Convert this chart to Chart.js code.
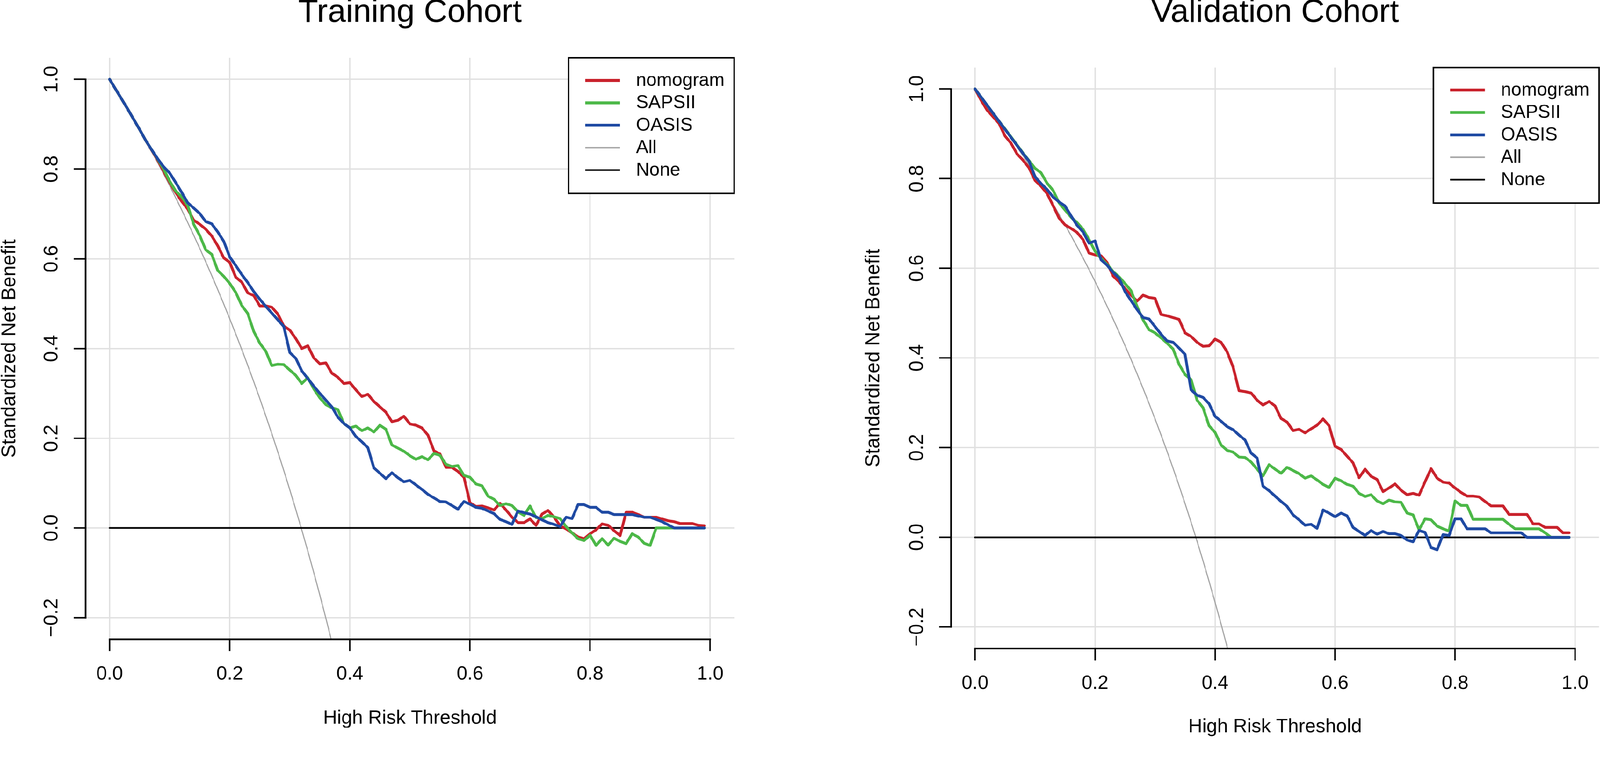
<!DOCTYPE html>
<html>
<head>
<meta charset="utf-8">
<script src="https://cdn.jsdelivr.net/npm/chart.js@4.4.1/dist/chart.umd.min.js"></script>
<style>
html,body{margin:0;padding:0;background:#ffffff;width:100%;height:100%;overflow:hidden;}
#stage{position:absolute;left:0;top:0;width:4317px;height:1992px;transform-origin:0 0;background:#ffffff;}
#stage canvas{position:absolute;top:0;}
#trainCanvas{left:0;}
#validCanvas{left:2330px;}
</style>
</head>
<body>
<div id="stage">
<canvas id="trainCanvas" width="2200" height="1992" style="width:2200px;height:1992px"></canvas>
<canvas id="validCanvas" width="1987" height="1992" style="width:1987px;height:1992px"></canvas>
</div>
<script>
// ---------------- DATA ----------------
const thresholds = [0.00,0.01,0.02,0.03,0.04,0.05,0.06,0.07,0.08,0.09,
 0.10,0.11,0.12,0.13,0.14,0.15,0.16,0.17,0.18,0.19,
 0.20,0.21,0.22,0.23,0.24,0.25,0.26,0.27,0.28,0.29,
 0.30,0.31,0.32,0.33,0.34,0.35,0.36,0.37,0.38,0.39,
 0.40,0.41,0.42,0.43,0.44,0.45,0.46,0.47,0.48,0.49,
 0.50,0.51,0.52,0.53,0.54,0.55,0.56,0.57,0.58,0.59,
 0.60,0.61,0.62,0.63,0.64,0.65,0.66,0.67,0.68,0.69,
 0.70,0.71,0.72,0.73,0.74,0.75,0.76,0.77,0.78,0.79,
 0.80,0.81,0.82,0.83,0.84,0.85,0.86,0.87,0.88,0.89,
 0.90,0.91,0.92,0.93,0.94,0.95,0.96,0.97,0.98,0.99];

const seriesNames = ['nomogram','SAPSII','OASIS','All','None'];
const panelTitles = ['Training Cohort','Validation Cohort'];
const xAxisTitle = 'High Risk Threshold';
const yAxisTitle = 'Standardized Net Benefit';
const xTicks = [0.0,0.2,0.4,0.6,0.8,1.0];
const yTicks = [-0.2,0.0,0.2,0.4,0.6,0.8,1.0];

// Training cohort
const trainNomogram = [1.000,0.978,0.956,0.934,0.911,0.888,0.864,0.842,0.820,0.795,
 0.770,0.748,0.728,0.711,0.686,0.677,0.666,0.651,0.629,0.602,
 0.592,0.559,0.548,0.524,0.518,0.495,0.495,0.492,0.477,0.450,
 0.441,0.422,0.400,0.406,0.379,0.366,0.368,0.345,0.336,0.322,
 0.324,0.308,0.293,0.298,0.282,0.270,0.258,0.237,0.240,0.249,
 0.232,0.229,0.223,0.207,0.172,0.165,0.135,0.135,0.126,0.113,
 0.056,0.048,0.049,0.045,0.040,0.055,0.040,0.024,0.012,0.012,
 0.020,0.006,0.031,0.039,0.024,0.005,-0.002,-0.011,-0.020,-0.024,
 -0.013,-0.004,0.009,0.006,-0.006,-0.017,0.035,0.035,0.030,0.024,
 0.024,0.024,0.020,0.016,0.014,0.010,0.010,0.010,0.006,0.005];
const trainSAPSII = [1.000,0.978,0.956,0.934,0.911,0.888,0.864,0.843,0.822,0.800,
 0.773,0.751,0.738,0.719,0.677,0.652,0.620,0.610,0.574,0.561,
 0.545,0.525,0.496,0.478,0.438,0.412,0.394,0.362,0.365,0.364,
 0.352,0.340,0.322,0.335,0.310,0.290,0.275,0.268,0.264,0.233,
 0.223,0.227,0.217,0.223,0.214,0.229,0.220,0.185,0.178,0.171,
 0.161,0.153,0.159,0.152,0.166,0.162,0.142,0.137,0.139,0.117,
 0.113,0.098,0.094,0.071,0.064,0.050,0.054,0.050,0.036,0.028,
 0.049,0.023,0.021,0.028,0.025,0.021,0.003,-0.011,-0.024,-0.028,
 -0.016,-0.039,-0.024,-0.038,-0.023,-0.030,-0.035,-0.013,-0.020,-0.034,
 -0.039,0.000,0.000,0.000,0.000,0.000,0.000,0.000,0.000,0.000];
const trainOASIS = [1.000,0.978,0.956,0.934,0.911,0.888,0.864,0.843,0.823,0.805,
 0.791,0.770,0.748,0.725,0.713,0.701,0.683,0.678,0.660,0.639,
 0.604,0.585,0.565,0.547,0.527,0.510,0.494,0.479,0.464,0.449,
 0.391,0.378,0.350,0.333,0.316,0.300,0.285,0.270,0.247,0.233,
 0.223,0.204,0.192,0.179,0.134,0.122,0.110,0.123,0.112,0.103,
 0.106,0.096,0.086,0.075,0.067,0.059,0.058,0.050,0.042,0.059,
 0.053,0.046,0.044,0.038,0.032,0.019,0.014,0.008,0.038,0.034,
 0.031,0.025,0.018,0.012,0.008,0.003,0.024,0.021,0.052,0.052,
 0.046,0.046,0.035,0.035,0.030,0.030,0.030,0.030,0.027,0.024,
 0.024,0.019,0.014,0.007,0.000,0.000,0.000,0.000,0.000,0.000];
const trainAll = [1.0000,0.9784,0.9564,0.9340,0.9110,0.8876,0.8637,0.8393,0.8144,0.7889,
 0.7628,0.7361,0.7089,0.6810,0.6525,0.6233,0.5934,0.5628,0.5314,0.4992,
 0.4663,0.4325,0.3979,0.3623,0.3259,0.2884,0.2499,0.2104,0.1698,0.1280,
 0.0851,0.0409,-0.0046,-0.0515,-0.0997,-0.1495,-0.2008,-0.2538,-0.3084];

// Validation cohort
const validNomogram = [1.000,0.975,0.953,0.938,0.923,0.895,0.879,0.855,0.841,0.824,
 0.796,0.783,0.767,0.740,0.712,0.697,0.689,0.680,0.664,0.634,
 0.630,0.628,0.613,0.583,0.570,0.555,0.540,0.527,0.540,0.535,
 0.533,0.497,0.494,0.490,0.486,0.456,0.448,0.435,0.426,0.427,
 0.442,0.435,0.414,0.380,0.327,0.325,0.322,0.306,0.295,0.303,
 0.293,0.265,0.257,0.238,0.241,0.233,0.242,0.250,0.264,0.249,
 0.203,0.196,0.181,0.166,0.133,0.152,0.136,0.129,0.102,0.110,
 0.119,0.105,0.095,0.098,0.094,0.124,0.153,0.132,0.123,0.121,
 0.110,0.100,0.092,0.092,0.090,0.080,0.070,0.070,0.070,0.051,
 0.051,0.051,0.051,0.030,0.030,0.022,0.022,0.022,0.010,0.010];
const validSAPSII = [1.000,0.982,0.964,0.946,0.928,0.911,0.893,0.875,0.857,0.840,
 0.823,0.813,0.790,0.774,0.746,0.730,0.714,0.702,0.687,0.664,
 0.638,0.622,0.609,0.593,0.581,0.566,0.550,0.515,0.485,0.463,
 0.456,0.445,0.433,0.420,0.386,0.363,0.352,0.306,0.289,0.249,
 0.234,0.206,0.194,0.190,0.179,0.178,0.168,0.152,0.137,0.162,
 0.152,0.143,0.156,0.149,0.142,0.132,0.137,0.128,0.118,0.111,
 0.132,0.126,0.118,0.114,0.098,0.091,0.095,0.081,0.075,0.083,
 0.079,0.078,0.054,0.050,0.017,0.041,0.039,0.025,0.019,0.014,
 0.081,0.071,0.071,0.040,0.040,0.040,0.040,0.040,0.040,0.029,
 0.019,0.019,0.019,0.019,0.019,0.010,0.000,0.000,0.000,0.000];
const validOASIS = [1.000,0.982,0.964,0.946,0.928,0.910,0.892,0.874,0.856,0.839,
 0.804,0.789,0.776,0.759,0.748,0.739,0.717,0.696,0.681,0.656,
 0.661,0.619,0.607,0.591,0.578,0.548,0.528,0.508,0.490,0.487,
 0.470,0.453,0.438,0.435,0.422,0.408,0.329,0.317,0.312,0.298,
 0.270,0.259,0.247,0.240,0.228,0.217,0.188,0.177,0.114,0.104,
 0.092,0.080,0.069,0.050,0.039,0.027,0.029,0.020,0.061,0.054,
 0.046,0.054,0.048,0.022,0.013,0.004,0.015,0.007,0.013,0.008,
 0.008,0.004,-0.006,-0.010,0.015,0.011,-0.023,-0.028,0.006,0.004,
 0.041,0.041,0.019,0.019,0.019,0.019,0.010,0.010,0.010,0.010,
 0.010,0.010,0.000,0.000,0.000,0.000,0.000,0.000,0.000,0.000];
const validAll = [1.0000,0.9827,0.9650,0.9469,0.9284,0.9096,0.8904,0.8707,0.8507,0.8301,
 0.8092,0.7877,0.7658,0.7434,0.7204,0.6969,0.6729,0.6482,0.6230,0.5972,
 0.5707,0.5435,0.5156,0.4870,0.4577,0.4275,0.3966,0.3648,0.3321,0.2985,
 0.2640,0.2284,0.1918,0.1541,0.1153,0.0752,0.0339,-0.0087,-0.0526,-0.0980,
 -0.1449,-0.1934,-0.2436,-0.2956];

// "None" reference line: net benefit 0 across the threshold range
const noneThresholds = [0.00, 0.99];
const noneValues = [0, 0];

// ---------------- PAGE SCALE ----------------
// The layout is designed in the 4317x1992 picture's own pixels; the stage is
// scaled so that it fills the viewport whatever the device pixel ratio is.
const S = window.innerWidth / 4317;
document.getElementById('stage').style.transform = 'scale(' + S + ')';
const DPR = Math.max(1, S * (window.devicePixelRatio || 1));

// ---------------- STYLE ----------------
const FONT = "'Liberation Sans', Arial, Helvetica, sans-serif";
Chart.defaults.font.family = FONT;
Chart.defaults.color = '#000000';
const COLORS = ['#C9222C', '#4CB848', '#1F4AA3', '#A3A3A3', '#000000'];
const GRID = '#E0E0E0';

function toPoints(xs, ys){ return ys.map((y, i) => ({x: xs[i], y: y})); }
function fmtTick(v){ const s = Math.abs(v).toFixed(1); return v < -1e-9 ? '\u2212' + s : s; }

// R-style axis lines (from first to last tick only)
const rAxesPlugin = {
  id: 'rAxes',
  afterDatasetsDraw(chart){
    const {ctx, chartArea: a, scales: {x, y}} = chart;
    ctx.save();
    ctx.strokeStyle = '#000';
    ctx.lineWidth = 4.5;
    ctx.lineCap = 'butt';
    ctx.beginPath();
    ctx.moveTo(x.getPixelForValue(xTicks[0]) - 2, a.bottom);
    ctx.lineTo(x.getPixelForValue(xTicks[xTicks.length - 1]) + 2, a.bottom);
    ctx.moveTo(a.left, y.getPixelForValue(yTicks[0]) + 2);
    ctx.lineTo(a.left, y.getPixelForValue(yTicks[yTicks.length - 1]) - 2);
    ctx.stroke();
    ctx.restore();
  }
};

// R-style boxed legend at the top right of the plot region
const rLegendPlugin = {
  id: 'rLegend',
  afterDraw(chart){
    const {ctx, chartArea: a} = chart;
    const w = 447, h = 366;
    const x0 = a.right - w, y0 = a.top;
    ctx.save();
    ctx.fillStyle = '#ffffff';
    ctx.fillRect(x0, y0, w, h);
    ctx.strokeStyle = '#000';
    ctx.lineWidth = 4;
    ctx.strokeRect(x0, y0, w, h);
    ctx.font = '50px ' + FONT;
    ctx.textBaseline = 'middle';
    ctx.textAlign = 'left';
    chart.data.datasets.forEach((ds, i) => {
      const yy = y0 + 61 + i * 60.5;
      ctx.strokeStyle = ds.borderColor;
      ctx.lineWidth = ds.legendWidth;
      ctx.lineCap = 'butt';
      ctx.beginPath();
      ctx.moveTo(x0 + 45, yy);
      ctx.lineTo(x0 + 139, yy);
      ctx.stroke();
      ctx.fillStyle = '#000';
      ctx.fillText(ds.label, x0 + 182, yy + 1);
    });
    ctx.restore();
  }
};

function makeChart(canvasId, title, models, allVals, g){
  const datasets = [
    {label: seriesNames[0], data: toPoints(thresholds, models[0]), borderColor: COLORS[0], borderWidth: 7.5, legendWidth: 8, order: 2},
    {label: seriesNames[1], data: toPoints(thresholds, models[1]), borderColor: COLORS[1], borderWidth: 7.5, legendWidth: 8, order: 1},
    {label: seriesNames[2], data: toPoints(thresholds, models[2]), borderColor: COLORS[2], borderWidth: 7.5, legendWidth: 8, order: 0},
    {label: seriesNames[3], data: toPoints(thresholds, allVals), borderColor: COLORS[3], borderWidth: 3, legendWidth: 4, order: 4},
    {label: seriesNames[4], data: toPoints(noneThresholds, noneValues), borderColor: COLORS[4], borderWidth: 4.5, legendWidth: 4.5, order: 3}
  ];
  const gridOpts = {color: GRID, lineWidth: 3.5, tickColor: '#000', tickWidth: 4, tickLength: 32, drawTicks: true};
  return new Chart(document.getElementById(canvasId), {
    type: 'line',
    data: {datasets: datasets},
    options: {
      responsive: false,
      animation: false,
      devicePixelRatio: DPR,
      events: [],
      elements: {
        line: {tension: 0, borderJoinStyle: 'round', borderCapStyle: 'round', fill: false},
        point: {radius: 0, hoverRadius: 0}
      },
      layout: {padding: {left: 0, right: g.padRight, top: 0, bottom: 0}},
      plugins: {
        legend: {display: false},
        tooltip: {enabled: false},
        title: {
          display: true, text: title, fullSize: false, color: '#000',
          font: {size: 88, weight: 'normal', lineHeight: 0.8},
          padding: {top: 0, bottom: g.titleGap}
        }
      },
      scales: {
        x: {
          type: 'linear', min: -0.04, max: 1.04,
          afterBuildTicks: s => { s.ticks = xTicks.map(v => ({value: v})); },
          afterFit: s => { s.height = g.xHeight; },
          grid: gridOpts,
          border: {display: false},
          ticks: {font: {size: 52}, color: '#000', padding: g.xTickPad, maxRotation: 0, autoSkip: false, callback: v => fmtTick(v)},
          title: {display: true, text: xAxisTitle, color: '#000', font: {size: 52, lineHeight: 1}, padding: {top: 0, bottom: g.xTitlePad}}
        },
        y: {
          type: 'linear', min: -0.248, max: 1.048,
          afterBuildTicks: s => { s.ticks = yTicks.map(v => ({value: v})); },
          afterFit: s => { s.width = g.yWidth; },
          grid: gridOpts,
          border: {display: false},
          ticks: {font: {size: 53}, color: '#000', padding: 6, crossAlign: 'center', minRotation: 90, maxRotation: 90, autoSkip: false, callback: v => fmtTick(v)},
          title: {display: true, text: yAxisTitle, color: '#000', font: {size: 53, lineHeight: 1}, padding: {top: g.yTitlePad, bottom: 0}}
        }
      }
    },
    plugins: [rAxesPlugin, rLegendPlugin]
  });
}

makeChart('trainCanvas', panelTitles[0], [trainNomogram, trainSAPSII, trainOASIS], trainAll,
  {padRight: 219, titleGap: 85.6, yWidth: 231, xHeight: 267, xTickPad: 31, xTitlePad: 27, yTitlePad: 0});
makeChart('validCanvas', panelTitles[1], [validNomogram, validSAPSII, validOASIS], validAll,
  {padRight: 0, titleGap: 111.6, yWidth: 236, xHeight: 242, xTickPad: 31, xTitlePad: 4, yTitlePad: 1});
</script>
</body>
</html>
